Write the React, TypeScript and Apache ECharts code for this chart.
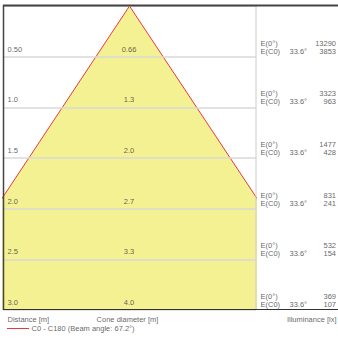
import React, { useEffect, useRef } from "react";
import * as echarts from "echarts";

const distances = [0.5, 1.0, 1.5, 2.0, 2.5, 3.0];
const distanceLabels = ["0.50", "1.0", "1.5", "2.0", "2.5", "3.0"];
const coneDiameters = ["0.66", "1.3", "2.0", "2.7", "3.3", "4.0"];
const e0Values = [13290, 3323, 1477, 831, 532, 369];
const ec0Values = [3853, 963, 428, 241, 154, 107];
const halfAngleLabel = "33.6°";
const coneEdgeX = [-1.99, 0, 1.99];
const coneEdgeY = [3.0, 0, 3.0];
const legendName = "C0 - C180 (Beam angle: 67.2°)";
const axisNames = ["Distance [m]", "Cone diameter [m]", "Illuminance [lx]"];

const FONT = "'Liberation Sans', Arial, sans-serif";
const TXT = "#3a3a3a";
const FS = 7.5;

function labelSeries(
  name: string,
  gridIdx: number,
  data: number[][],
  texts: string[],
  pos: [number, number],
  align: string
) {
  return {
    name,
    type: "scatter",
    xAxisIndex: gridIdx,
    yAxisIndex: gridIdx,
    symbolSize: 1,
    clip: false,
    silent: true,
    itemStyle: { color: "rgba(0,0,0,0)" },
    data,
    label: {
      show: true,
      position: pos,
      align,
      verticalAlign: "middle",
      fontSize: FS,
      fontFamily: FONT,
      color: TXT,
      formatter: (p: any) => texts[p.dataIndex],
    },
    z: 20,
  };
}

export default function App() {
  const ref = useRef<HTMLDivElement>(null);
  useEffect(() => {
    if (!ref.current) return;
    const chart = echarts.init(ref.current, null, { renderer: "svg" });
    const option: any = {
      animation: false,
      grid: [
        { left: 3, top: 6, width: 253, height: 304 },
        { left: 256, top: 6, width: 82, height: 304 },
      ],
      xAxis: [
        { type: "value", gridIndex: 0, min: -1.25, max: 1.25, show: false },
        { type: "value", gridIndex: 1, min: 0, max: 82, show: false },
      ],
      yAxis: [
        {
          type: "value",
          gridIndex: 0,
          inverse: true,
          min: 0,
          max: 3,
          interval: 0.5,
          z: 10,
          axisLine: { show: false },
          axisTick: { show: false },
          axisLabel: { show: false },
          splitLine: { show: true, lineStyle: { color: "#d9d9d9", width: 1.5 } },
        },
        { type: "value", gridIndex: 1, inverse: true, min: 0, max: 3, show: false },
      ],
      series: [
        {
          name: legendName,
          type: "line",
          xAxisIndex: 0,
          yAxisIndex: 0,
          data: coneEdgeX.map((x, i) => [x, coneEdgeY[i]]),
          showSymbol: false,
          clip: true,
          z: 1,
          lineStyle: { color: "#e8383d", width: 1 },
          areaStyle: { color: "#f4f192", opacity: 1, origin: "end" },
        },
        labelSeries("dist", 0, distances.map((d) => [-1.25, d]), distanceLabels, [5, -7], "left"),
        labelSeries("cone", 0, distances.map((d) => [0, d]), coneDiameters, [0, -7], "center"),
        labelSeries("e0name", 1, distances.map((d) => [5, d]), distances.map(() => "E(0°)"), [0, -13], "left"),
        labelSeries("ec0name", 1, distances.map((d) => [5, d]), distances.map(() => "E(C0)"), [0, -5], "left"),
        labelSeries("angle", 1, distances.map((d) => [34, d]), distances.map(() => halfAngleLabel), [0, -5], "left"),
        labelSeries("e0val", 1, distances.map((d) => [80.5, d]), e0Values.map((v) => String(v)), [0, -13], "right"),
        labelSeries("ec0val", 1, distances.map((d) => [80.5, d]), ec0Values.map((v) => String(v)), [0, -5], "right"),
        labelSeries("nameDist", 0, [[-1.25, 3]], [axisNames[0]], [5, 9.5], "left"),
        labelSeries("nameCone", 0, [[-0.32, 3]], [axisNames[1]], [0, 9.5], "left"),
        labelSeries("nameLux", 1, [[81, 3]], [axisNames[2]], [0, 9.5], "right"),
        labelSeries("legendText", 0, [[-1.25, 3]], [legendName], [29, 19], "left"),
      ],
      graphic: [
        {
          type: "line",
          shape: { x1: 256, y1: 6, x2: 256, y2: 309 },
          style: { stroke: "#cccccc", lineWidth: 1 },
          z: 30,
        },
        {
          type: "line",
          shape: { x1: 3, y1: 5.5, x2: 338, y2: 5.5 },
          style: { stroke: "#444444", lineWidth: 2 },
          z: 30,
        },
        {
          type: "line",
          shape: { x1: 3.5, y1: 5, x2: 3.5, y2: 310 },
          style: { stroke: "#444444", lineWidth: 1.5 },
          z: 30,
        },
        {
          type: "line",
          shape: { x1: 3, y1: 309.5, x2: 338, y2: 309.5 },
          style: { stroke: "#333333", lineWidth: 1 },
          z: 30,
        },
        {
          type: "line",
          shape: { x1: 7, y1: 328.5, x2: 29, y2: 328.5 },
          style: { stroke: "#e8383d", lineWidth: 1 },
        },
      ],
    };
    chart.setOption(option);
    return () => chart.dispose();
  }, []);
  return (
    <div
      ref={ref}
      style={{ position: "fixed", left: 0, top: 0, width: 338, height: 340, background: "#fff" }}
    />
  );
}
